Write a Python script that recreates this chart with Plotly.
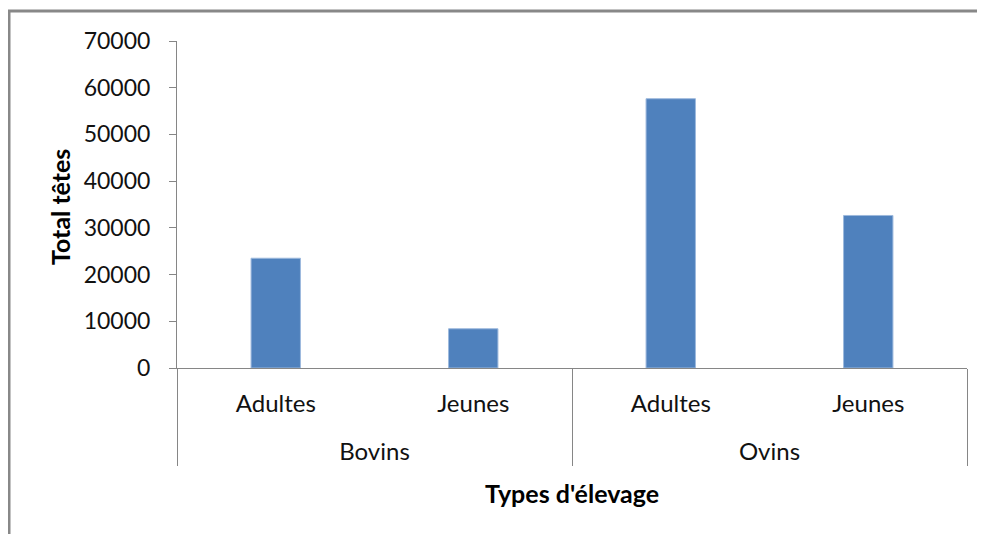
import plotly.graph_objects as go

groups = ["Bovins", "Bovins", "Ovins", "Ovins"]
ages = ["Adultes", "Jeunes", "Adultes", "Jeunes"]
totals = [23500, 8400, 57650, 32650]

y_ticks = [0, 10000, 20000, 30000, 40000, 50000, 60000, 70000]

FONT = "Lato"
GRAY = "#868686"

# the page body adds an 8px margin, so the figure is drawn 8px smaller
fig = go.Figure(
    go.Bar(
        x=[["<br>" + g for g in groups], ages],
        y=totals,
        width=0.25,
        marker=dict(color="#4F81BD", line=dict(color="#9DB9DD", width=1)),
    )
)

fig.update_layout(
    width=977,
    height=526,
    margin=dict(l=169, r=18, t=33, b=166),
    plot_bgcolor="white",
    paper_bgcolor="white",
    showlegend=False,
    font=dict(family=FONT, size=23, color="#111111"),
    xaxis=dict(
        type="multicategory",
        showline=True,
        linecolor=GRAY,
        linewidth=1,
        showdividers=True,
        dividercolor=GRAY,
        dividerwidth=1,
        ticks="",
        tickfont=dict(family=FONT, size=24, color="#111111"),
        ticklabelstandoff=14,
        showgrid=False,
    ),
    yaxis=dict(
        range=[0, 70000],
        tickvals=y_ticks,
        ticktext=[str(v) for v in y_ticks],
        showline=True,
        linecolor=GRAY,
        linewidth=1,
        ticks="outside",
        ticklen=7,
        tickcolor=GRAY,
        showgrid=False,
        zeroline=False,
        tickfont=dict(family=FONT, size=23, color="#111111"),
        ticklabelstandoff=14,
    ),
    shapes=[
        dict(
            type="rect",
            xref="paper",
            yref="paper",
            x0=(9 - 177) / 790,
            x1=1.2,
            y0=-0.8,
            y1=1 + (41 - 11) / 327,
            line=dict(color="#888888", width=3),
            fillcolor="rgba(0,0,0,0)",
            layer="below",
        )
    ],
    annotations=[
        dict(
            text="<b>Total têtes</b>",
            xref="paper",
            yref="paper",
            x=(60 - 177) / 790,
            y=(368 - 207) / 327,
            xanchor="center",
            yanchor="middle",
            textangle=-90,
            showarrow=False,
            font=dict(family=FONT, size=25, color="#000000"),
        ),
        dict(
            text="<b>Types d'élevage</b>",
            xref="paper",
            yref="paper",
            x=0.5,
            y=(368 - 493) / 327,
            xanchor="center",
            yanchor="middle",
            showarrow=False,
            font=dict(family=FONT, size=25, color="#000000"),
        ),
    ],
)

fig.write_html("out.html")
